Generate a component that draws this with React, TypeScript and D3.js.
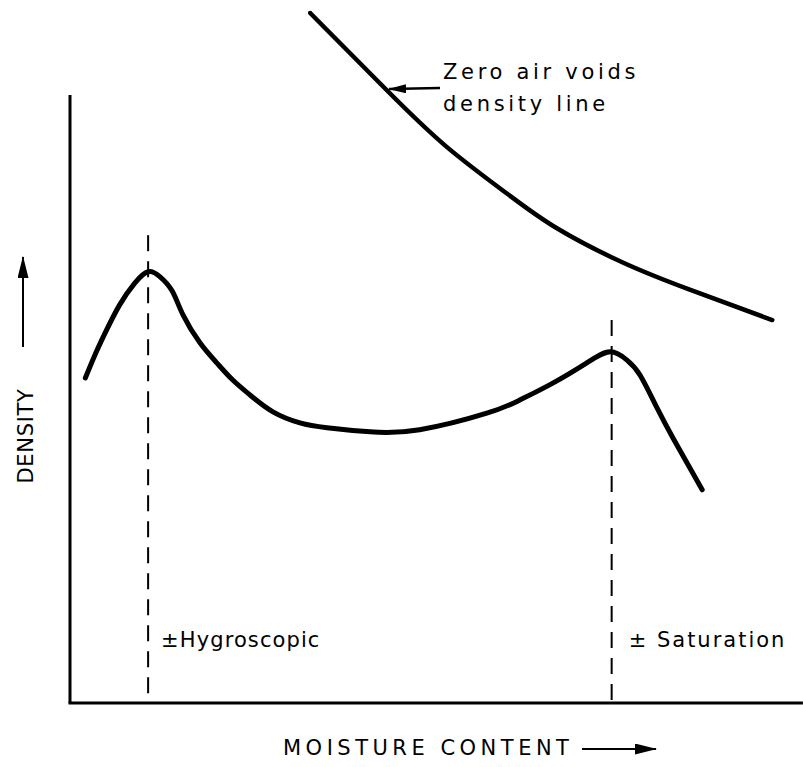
import { useEffect, useRef } from "react";
import * as d3 from "d3";

// moisture content (arbitrary units) vs density (arbitrary units)
const compactionMoisture = [2.1, 3.4, 4.8, 6.8, 8.9, 10.7, 12.3, 14.0, 15.5, 17.8, 20.1, 22.3, 24.7, 27.8, 31.5, 35.2, 41.1, 47.9, 57.1, 61.6, 66.2, 70.8, 74.0, 76.3, 78.1, 80.4, 82.6, 84.9, 86.6];
const compactionDensity = [47.1, 50.4, 53.6, 57.7, 60.9, 62.5, 61.8, 59.7, 56.2, 52.2, 49.3, 46.8, 44.6, 42.2, 40.6, 39.9, 39.3, 39.6, 42.0, 43.9, 46.4, 49.3, 50.9, 49.7, 47.5, 42.8, 38.4, 34.1, 30.9];

const zavMoisture = [32.9, 43.4, 51.6, 59.9, 66.7, 75.8, 84.9, 96.2];
const zavDensity = [100, 88.8, 80.6, 73.8, 68.8, 63.8, 59.9, 55.5];

// reference moisture contents (dashed lines) and the height where each dash starts
const markerNames = ["Hygroscopic", "Saturation"];
const markerMoisture = [10.7, 74.2];
const markerTop = [67.8, 55.5];

const yAxisTop = 88.1;
const xAxisEnd = 100.4;

const W = 803, H = 767;
const FONT = "'DejaVu Sans', sans-serif";

const App = () => {
    const ref = useRef<SVGSVGElement>(null);

    useEffect(() => {
        if (!ref.current) return;
        const svg = d3.select(ref.current);
        svg.selectAll("*").remove();

        const x = d3.scaleLinear().domain([0, 100]).range([70, 800]);
        const y = d3.scaleLinear().domain([0, 100]).range([703, 13]);

        const defs = svg.append("defs");
        const addHead = (id: string, len: number, wid: number) => {
            defs.append("marker")
                .attr("id", id)
                .attr("viewBox", `0 0 ${len} ${wid}`)
                .attr("refX", len - 1).attr("refY", wid / 2)
                .attr("markerWidth", len).attr("markerHeight", wid)
                .attr("markerUnits", "userSpaceOnUse")
                .attr("orient", "auto")
                .append("path")
                .attr("d", `M0,0 L${len},${wid / 2} L0,${wid} Z`)
                .attr("fill", "#000");
        };
        addHead("headSmall", 18, 9);
        addHead("headBig", 22, 11);

        // axes (no ticks in the original)
        svg.append("line")
            .attr("x1", x(0)).attr("x2", x(0))
            .attr("y1", y(0)).attr("y2", y(yAxisTop))
            .attr("stroke", "#000").attr("stroke-width", 3);
        svg.append("line")
            .attr("x1", x(0) - 1.5).attr("x2", x(xAxisEnd))
            .attr("y1", y(0)).attr("y2", y(0))
            .attr("stroke", "#000").attr("stroke-width", 3);

        // dashed reference lines + labels
        const labelSpacing = [1.1, 2];
        const labelGap = [13, 17];
        markerNames.forEach((name, i) => {
            svg.append("line")
                .attr("x1", x(markerMoisture[i])).attr("x2", x(markerMoisture[i]))
                .attr("y1", y(markerTop[i])).attr("y2", y(0))
                .attr("stroke", "#000").attr("stroke-width", 2)
                .attr("stroke-dasharray", "16,10");
            svg.append("text")
                .attr("x", x(markerMoisture[i]) + labelGap[i])
                .attr("y", 647)
                .attr("font-family", FONT).attr("font-size", 21)
                .attr("letter-spacing", labelSpacing[i])
                .text("\u00b1" + (i === 0 ? "" : " ") + name);
        });

        const line = d3.line().curve(d3.curveNatural);

        const compaction = compactionMoisture.map((m, i) => [x(m), y(compactionDensity[i])] as [number, number]);
        svg.append("path")
            .attr("d", line(compaction))
            .attr("fill", "none").attr("stroke", "#000")
            .attr("stroke-width", 5).attr("stroke-linecap", "round");

        const zav = zavMoisture.map((m, i) => [x(m), y(zavDensity[i])] as [number, number]);
        svg.append("path")
            .attr("d", line(zav))
            .attr("fill", "none").attr("stroke", "#000")
            .attr("stroke-width", 4.5).attr("stroke-linecap", "round");

        // zero air voids annotation
        const zt = svg.append("text")
            .attr("font-family", FONT).attr("font-size", 21)
            .attr("letter-spacing", 3.7);
        zt.append("tspan").attr("x", 443).attr("y", 79).text("Zero air voids");
        zt.append("tspan").attr("x", 443).attr("y", 111).text("density line");
        svg.append("line")
            .attr("x1", 440).attr("y1", 88).attr("x2", 389).attr("y2", 89)
            .attr("stroke", "#000").attr("stroke-width", 2.5)
            .attr("marker-end", "url(#headSmall)");

        // axis titles
        svg.append("text")
            .attr("transform", "translate(33,436) rotate(-90)")
            .attr("text-anchor", "middle")
            .attr("font-family", FONT).attr("font-size", 21)
            .attr("letter-spacing", 0.7)
            .text("DENSITY");
        svg.append("line")
            .attr("x1", 23).attr("y1", 347).attr("x2", 23).attr("y2", 257)
            .attr("stroke", "#000").attr("stroke-width", 2)
            .attr("marker-end", "url(#headBig)");

        svg.append("text")
            .attr("x", 283).attr("y", 755)
            .attr("font-family", FONT).attr("font-size", 21)
            .attr("letter-spacing", 4.5)
            .text("MOISTURE CONTENT");
        svg.append("line")
            .attr("x1", 582).attr("y1", 749).attr("x2", 656).attr("y2", 749)
            .attr("stroke", "#000").attr("stroke-width", 2)
            .attr("marker-end", "url(#headBig)");
    }, []);

    return (
        <svg ref={ref} width={W} height={H}
             style={{ position: "absolute", left: 0, top: 0, background: "#fff" }} />
    );
};

export default App;
